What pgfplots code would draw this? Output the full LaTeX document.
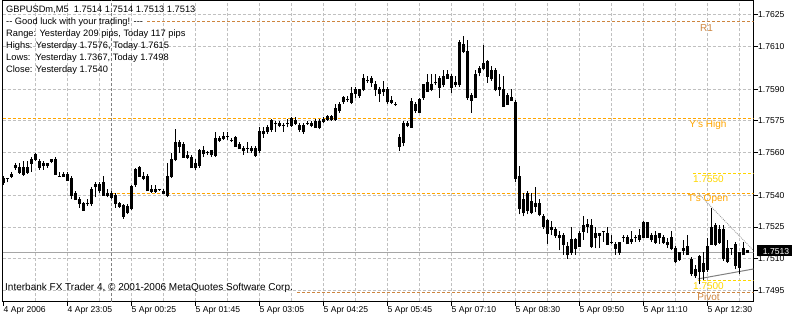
\documentclass[border=0pt]{standalone}
\usepackage{pgfplots}
\pgfplotsset{compat=1.18}
\usepackage{pgfplotstable}
\usepackage{fontspec}
\setmainfont{Liberation Sans}
\definecolor{bull}{RGB}{0,255,0}
\definecolor{bear}{RGB}{255,0,0}
\definecolor{gridc}{RGB}{192,192,192}
\definecolor{orng}{RGB}{255,165,0}
\definecolor{peruc}{RGB}{205,133,63}
\definecolor{goldc}{RGB}{255,215,0}
\pgfplotstableread{
i O H L C
0 1.7546 1.7549 1.7545 1.7548
1 1.7548 1.7548 1.7546 1.7548
2 1.7549 1.7551 1.7548 1.7550
3 1.7553 1.7555 1.7552 1.7554
4 1.7553 1.7555 1.7550 1.7551
5 1.7550 1.7556 1.7549 1.7553
6 1.7553 1.7556 1.7550 1.7551
7 1.7555 1.7558 1.7551 1.7557
8 1.7557 1.7560 1.7556 1.7559
9 1.7556 1.7557 1.7552 1.7553
10 1.7554 1.7556 1.7552 1.7555
11 1.7554 1.7555 1.7553 1.7555
12 1.7556 1.7557 1.7555 1.7557
13 1.7557 1.7558 1.7550 1.7550
14 1.7549 1.7551 1.7549 1.7549
15 1.7550 1.7551 1.7549 1.7549
16 1.7550 1.7551 1.7547 1.7547
17 1.7548 1.7549 1.7538 1.7540
18 1.7541 1.7542 1.7538 1.7538
19 1.7538 1.7539 1.7534 1.7536
20 1.7536 1.7537 1.7533 1.7533
21 1.7536 1.7538 1.7535 1.7536
22 1.7536 1.7544 1.7535 1.7543
23 1.7544 1.7546 1.7539 1.7545
24 1.7542 1.7546 1.7541 1.7545
25 1.7546 1.7549 1.7540 1.7540
26 1.7541 1.7543 1.7539 1.7540
27 1.7541 1.7542 1.7538 1.7539
28 1.7540 1.7541 1.7534 1.7536
29 1.7536 1.7537 1.7534 1.7535
30 1.7535 1.7536 1.7529 1.7530
31 1.7532 1.7536 1.7531 1.7535
32 1.7534 1.7545 1.7533 1.7544
33 1.7545 1.7553 1.7544 1.7552
34 1.7553 1.7554 1.7549 1.7549
35 1.7548 1.7551 1.7547 1.7549
36 1.7549 1.7550 1.7542 1.7542
37 1.7543 1.7545 1.7541 1.7542
38 1.7542 1.7545 1.7541 1.7543
39 1.7543 1.7543 1.7542 1.7543
40 1.7542 1.7543 1.7541 1.7541
41 1.7540 1.7555 1.7539 1.7549
42 1.7549 1.7560 1.7548 1.7557
43 1.7557 1.7571 1.7556 1.7565
44 1.7563 1.7566 1.7560 1.7565
45 1.7564 1.7565 1.7558 1.7558
46 1.7559 1.7561 1.7557 1.7558
47 1.7558 1.7559 1.7553 1.7553
48 1.7553 1.7557 1.7552 1.7555
49 1.7554 1.7562 1.7553 1.7561
50 1.7560 1.7563 1.7558 1.7561
51 1.7560 1.7561 1.7559 1.7560
52 1.7559 1.7561 1.7558 1.7561
53 1.7559 1.7570 1.7558 1.7567
54 1.7566 1.7568 1.7565 1.7567
55 1.7567 1.7570 1.7566 1.7568
56 1.7568 1.7570 1.7566 1.7568
57 1.7566 1.7567 1.7565 1.7566
58 1.7567 1.7568 1.7563 1.7563
59 1.7564 1.7565 1.7562 1.7562
60 1.7562 1.7563 1.7559 1.7561
61 1.7562 1.7565 1.7560 1.7562
62 1.7562 1.7563 1.7560 1.7561
63 1.7559 1.7563 1.7558 1.7562
64 1.7561 1.7572 1.7560 1.7570
65 1.7569 1.7572 1.7567 1.7570
66 1.7570 1.7573 1.7569 1.7572
67 1.7571 1.7576 1.7570 1.7575
68 1.7574 1.7575 1.7570 1.7574
69 1.7573 1.7575 1.7572 1.7574
70 1.7573 1.7574 1.7570 1.7573
71 1.7574 1.7576 1.7572 1.7574
72 1.7573 1.7577 1.7572 1.7576
73 1.7575 1.7577 1.7573 1.7574
74 1.7573 1.7574 1.7570 1.7571
75 1.7570 1.7574 1.7569 1.7573
76 1.7574 1.7575 1.7573 1.7574
77 1.7573 1.7575 1.7572 1.7574
78 1.7575 1.7576 1.7572 1.7572
79 1.7572 1.7576 1.7571 1.7575
80 1.7576 1.7577 1.7574 1.7575
81 1.7576 1.7578 1.7575 1.7577
82 1.7576 1.7578 1.7575 1.7577
83 1.7576 1.7583 1.7575 1.7581
84 1.7580 1.7584 1.7579 1.7583
85 1.7584 1.7587 1.7583 1.7586
86 1.7585 1.7587 1.7584 1.7585
87 1.7584 1.7591 1.7583 1.7588
88 1.7590 1.7591 1.7586 1.7588
89 1.7587 1.7590 1.7586 1.7590
90 1.7590 1.7597 1.7589 1.7595
91 1.7594 1.7596 1.7593 1.7594
92 1.7595 1.7596 1.7591 1.7593
93 1.7592 1.7594 1.7587 1.7590
94 1.7590 1.7591 1.7584 1.7588
95 1.7589 1.7594 1.7587 1.7590
96 1.7590 1.7591 1.7583 1.7584
97 1.7585 1.7587 1.7583 1.7584
98 1.7583 1.7584 1.7582 1.7583
99 1.7567 1.7569 1.7561 1.7563
100 1.7565 1.7575 1.7563 1.7574
101 1.7573 1.7575 1.7572 1.7574
102 1.7572 1.7586 1.7572 1.7584
103 1.7583 1.7584 1.7579 1.7580
104 1.7579 1.7586 1.7579 1.7585
105 1.7586 1.7592 1.7585 1.7592
106 1.7593 1.7597 1.7589 1.7589
107 1.7590 1.7597 1.7589 1.7592
108 1.7593 1.7597 1.7592 1.7593
109 1.7595 1.7596 1.7586 1.7591
110 1.7592 1.7599 1.7591 1.7596
111 1.7595 1.7599 1.7595 1.7597
112 1.7596 1.7597 1.7588 1.7591
113 1.7592 1.7596 1.7591 1.7593
114 1.7592 1.7613 1.7591 1.7612
115 1.7611 1.7615 1.7607 1.7608
116 1.7608 1.7613 1.7585 1.7586
117 1.7585 1.7588 1.7579 1.7587
118 1.7586 1.7599 1.7586 1.7597
119 1.7598 1.7601 1.7596 1.7600
120 1.7600 1.7611 1.7599 1.7602
121 1.7603 1.7604 1.7593 1.7596
122 1.7595 1.7601 1.7594 1.7599
123 1.7599 1.7600 1.7589 1.7590
124 1.7590 1.7597 1.7587 1.7591
125 1.7590 1.7596 1.7582 1.7582
126 1.7583 1.7588 1.7583 1.7587
127 1.7586 1.7590 1.7585 1.7585
128 1.7584 1.7585 1.7546 1.7548
129 1.7549 1.7554 1.7531 1.7534
130 1.7532 1.7541 1.7530 1.7538
131 1.7541 1.7542 1.7531 1.7533
132 1.7532 1.7541 1.7531 1.7537
133 1.7536 1.7544 1.7532 1.7535
134 1.7536 1.7538 1.7530 1.7531
135 1.7530 1.7531 1.7524 1.7525
136 1.7528 1.7529 1.7517 1.7522
137 1.7524 1.7528 1.7521 1.7525
138 1.7524 1.7525 1.7520 1.7521
139 1.7521 1.7523 1.7514 1.7520
140 1.7521 1.7522 1.7512 1.7517
141 1.7516 1.7518 1.7510 1.7512
142 1.7513 1.7525 1.7512 1.7519
143 1.7519 1.7520 1.7512 1.7515
144 1.7516 1.7523 1.7516 1.7522
145 1.7523 1.7530 1.7519 1.7526
146 1.7526 1.7529 1.7522 1.7525
147 1.7526 1.7529 1.7515 1.7516
148 1.7520 1.7525 1.7515 1.7522
149 1.7521 1.7522 1.7515 1.7522
150 1.7523 1.7523 1.7518 1.7523
151 1.7522 1.7525 1.7517 1.7517
152 1.7518 1.7521 1.7517 1.7518
153 1.7517 1.7518 1.7512 1.7515
154 1.7513 1.7518 1.7512 1.7518
155 1.7520 1.7521 1.7518 1.7520
156 1.7520 1.7521 1.7517 1.7517
157 1.7518 1.7523 1.7517 1.7519
158 1.7520 1.7521 1.7518 1.7520
159 1.7521 1.7524 1.7518 1.7519
160 1.7520 1.7528 1.7520 1.7527
161 1.7527 1.7527 1.7520 1.7520
162 1.7521 1.7522 1.7518 1.7519
163 1.7518 1.7523 1.7517 1.7521
164 1.7522 1.7522 1.7517 1.7520
165 1.7520 1.7521 1.7517 1.7518
166 1.7518 1.7520 1.7515 1.7517
167 1.7520 1.7523 1.7514 1.7515
168 1.7515 1.7516 1.7508 1.7509
169 1.7510 1.7513 1.7509 1.7513
170 1.7514 1.7519 1.7512 1.7515
171 1.7516 1.7521 1.7512 1.7512
172 1.7510 1.7511 1.7502 1.7503
173 1.7502 1.7507 1.7501 1.7505
174 1.7504 1.7512 1.7498 1.7511
175 1.7508 1.7513 1.7500 1.7504
176 1.7505 1.7520 1.7504 1.7516
177 1.7517 1.7534 1.7517 1.7525
178 1.7526 1.7527 1.7516 1.7517
179 1.7524 1.7526 1.7517 1.7518
180 1.7524 1.7526 1.7509 1.7510
181 1.7509 1.7519 1.7508 1.7515
182 1.7515 1.7515 1.7512 1.7515
183 1.7517 1.7518 1.7505 1.7507
184 1.7506 1.7513 1.7503 1.7513
185 1.7512 1.7518 1.7512 1.7515
186 1.7514 1.7514 1.7513 1.7513
}\candles
\begin{document}
\begin{tikzpicture}
\useasboundingbox (-2.5bp,-12.5bp) rectangle (789.5bp,301.5bp);
\begin{axis}[
  at={(0,0)}, anchor=south west,
  scale only axis, width=751bp, height=301bp,
  xmin=-0.25, xmax=187.5, ymin=1.748986, ymax=1.763184,
  axis line style={black, line width=1bp},
  clip mode=individual,
  xtick={0,16,...,176},
  xticklabels={4 Apr 2006, 4 Apr 23:05, 5 Apr 00:25, 5 Apr 01:45, 5 Apr 03:05, 5 Apr 04:25, 5 Apr 05:45, 5 Apr 07:10, 5 Apr 08:30, 5 Apr 09:50, 5 Apr 11:10, 5 Apr 12:30},
  minor xtick={8,16,...,184},
  xminorgrids=true, xmajorgrids=false,
  ytick={1.7625,1.7610,1.7590,1.7575,1.7560,1.7540,1.7525,1.7510,1.7495},
  yticklabels={1.7625,1.7610,1.7590,1.7575,1.7560,1.7540,1.7525,1.7510,1.7495},
  ymajorgrids=true,
  grid style={gridc, line width=1bp, dash pattern=on 3bp off 2bp},
  xtick pos=bottom, ytick pos=right, yticklabel pos=right,
  tick align=outside, major tick length=4.5bp, minor tick length=0pt,
  tick style={black, line width=1bp},
  xticklabel style={anchor=north west, inner xsep=0pt, inner ysep=0pt, font=\fontsize{8.6bp}{10bp}\selectfont},
  yticklabel style={anchor=west, inner xsep=0pt, inner ysep=0pt, font=\fontsize{8.6bp}{10bp}\selectfont},
]
% day separator
\addplot[gray, line width=1bp, dash pattern=on 3bp off 2bp, forget plot] coordinates {(27,1.748986) (27,1.763184)};
% level lines
\addplot[peruc, line width=1bp, dash pattern=on 3bp off 2bp, forget plot] coordinates {(35.9,1.7622) (187.5,1.7622)};
\addplot[orng, line width=1bp, dash pattern=on 3bp off 2bp, forget plot] coordinates {(-0.25,1.7576) (187.5,1.7576)};
\addplot[orng, line width=1bp, dash pattern=on 3bp off 2bp, forget plot] coordinates {(27,1.7541) (187.5,1.7541)};
\addplot[goldc, line width=1bp, dash pattern=on 3bp off 2bp, forget plot] coordinates {(172.4,1.7550) (187.5,1.7550)};
\addplot[goldc, line width=1bp, dash pattern=on 3bp off 2bp, forget plot] coordinates {(173.6,1.7500) (187.5,1.7500)};
\addplot[peruc, line width=1bp, dash pattern=on 3bp off 2bp, forget plot] coordinates {(73.4,1.74943) (187.5,1.74943)};
\addplot[gray!70, line width=1bp, forget plot] coordinates {(-0.25,1.7513) (187.5,1.7513)};
% trend lines
\addplot[gray!80, line width=0.8bp, dash pattern=on 1bp off 1bp, forget plot] coordinates {(173.6,1.7541) (187.5,1.75139)};
\addplot[gray, line width=1bp, forget plot] coordinates {(173.6,1.75005) (187.5,1.75052)};
% candles: deferred quiver layers are painted in reverse order, so fills come first here
% bear fill
\addplot[bear, line width=1.6bp, solid, mark=none, forget plot,
  quiver={u=0, v={((\thisrow{O}-\thisrow{C}-0.0000472)+abs(\thisrow{O}-\thisrow{C}-0.0000472))/2}}]
  table[x=i, y expr={\thisrow{C}+0.0000236}] {\candles};
% bull fill
\addplot[bull, line width=1.6bp, solid, mark=none, forget plot,
  quiver={u=0, v={((\thisrow{C}-\thisrow{O}-0.0000472)+abs(\thisrow{C}-\thisrow{O}-0.0000472))/2}}]
  table[x=i, y expr={\thisrow{O}+0.0000236}] {\candles};
% body outlines
\addplot[black, line width=3.2bp, solid, mark=none, forget plot,
  quiver={u=0, v={abs(\thisrow{O}-\thisrow{C})+0.0000472}}]
  table[x=i, y expr={(\thisrow{O}+\thisrow{C})/2-abs(\thisrow{O}-\thisrow{C})/2-0.0000236}] {\candles};
% wicks: low to high
\addplot[black, line width=1bp, solid, mark=none, forget plot,
  quiver={u=0, v={\thisrow{H}-\thisrow{L}}}]
  table[x=i, y=L] {\candles};
\end{axis}
% texts
\begin{scope}[every node/.style={inner sep=0pt, anchor=base west, font=\fontsize{9.3bp}{11bp}\selectfont}]
\node at (3.5bp,289bp) {GBPUSDm,M5\ \ 1.7514 1.7514 1.7513 1.7513};
\node at (3.5bp,277bp) {-{}- Good luck with your trading! -{}-{}-};
\node at (3.5bp,265bp) {Range: Yesterday 209 pips, Today 117 pips};
\node at (3.5bp,253bp) {Highs: Yesterday 1.7576, Today 1.7615};
\node at (3.5bp,241bp) {Lows:\ \ Yesterday 1.7367, Today 1.7498};
\node at (3.5bp,229bp) {Close: Yesterday 1.7540};
\node[font=\fontsize{10bp}{12bp}\selectfont] at (2.5bp,11.5bp) {Interbank FX Trader 4, \textcopyright{} 2001-2006 MetaQuotes Software Corp.};
\end{scope}
\begin{scope}[every node/.style={inner sep=0pt, anchor=base, font=\fontsize{10bp}{12bp}\selectfont}]
\node[text=peruc] at (704bp,269.5bp) {R1};
\node[text=orng] at (705.5bp,173.5bp) {Y's High};
\node[text=goldc] at (706bp,118.5bp) {1.7550};
\node[text=orng] at (705.5bp,99.5bp) {T's Open};
\node[text=goldc] at (706bp,12.5bp) {1.7500};
\node[text=peruc] at (706bp,1bp) {Pivot};
\end{scope}
\fill[black] (754.5bp,45bp) rectangle (789.5bp,56bp);
\node[inner sep=0pt, anchor=base west, text=white, font=\fontsize{8.6bp}{10bp}\selectfont] at (760.2bp,47.3bp) {1.7513};
\end{tikzpicture}
\end{document}
